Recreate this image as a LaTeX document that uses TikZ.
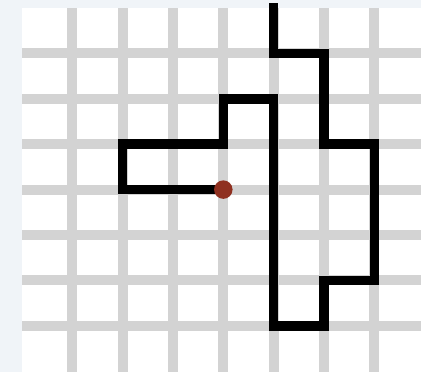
\documentclass[tikz,border=0pt]{standalone}
\definecolor{pagebg}{HTML}{F0F4F8}
\definecolor{gridgray}{HTML}{D3D3D3}
\definecolor{dotred}{HTML}{8F3020}
\tikzset{
  gridline/.style={draw=gridgray, line width=10pt},
  walk/.style={draw=black, line width=9.5pt, line cap=rect, line join=miter},
  enddot/.style={circle, fill=dotred, inner sep=0pt, minimum size=18.5pt}
}
\begin{document}
\begin{tikzpicture}[x=1pt,y=-1pt]
  \useasboundingbox (0,0) rectangle (421,372);
  \fill[pagebg] (0,0) rectangle (421,372);
  \fill[white] (22,8) rectangle (421,372);
  % grid: origin (22,8), spacing 50.33 x 45.4
  \def\gx#1{22+50.33*#1}
  \def\gy#1{8+45.4*#1}
  \foreach \i in {1,...,7}
    \draw[gridline] ({22+50.33*\i},8) -- ({22+50.33*\i},372);
  \foreach \j in {1,...,7}
    \draw[gridline] (22,{8+45.4*\j}) -- (421,{8+45.4*\j});
  % path coordinates
  \foreach \n/\i/\j in {p0/4/4,p1/2/4,p2/2/3,p3/4/3,p4/4/2,p5/5/2,p6/5/7,p7/6/7,p8/6/6,p9/7/6,p10/7/3,p11/6/3,p12/6/1,p13/5/1,p14/5/0}
    \coordinate (\n) at ({22+50.33*\i},{8+45.4*\j});
  \draw[walk] (p0) -- (p1) -- (p2) -- (p3) -- (p4) -- (p5) -- (p6) -- (p7) -- (p8) -- (p9) -- (p10) -- (p11) -- (p12) -- (p13) -- (p14);
  \node[enddot] (dot) at (p0) {};
\end{tikzpicture}
\end{document}
